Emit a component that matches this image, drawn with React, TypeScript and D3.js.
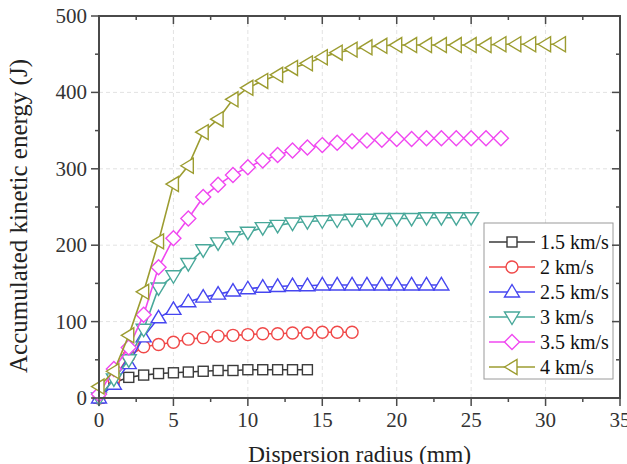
import React from "react";
import * as d3 from "d3";

const seriesNames = ["1.5 km/s", "2 km/s", "2.5 km/s", "3 km/s", "3.5 km/s", "4 km/s"];
const seriesColors = ["#3a3a3a", "#f04848", "#4646f0", "#48a89a", "#f048f0", "#9c9c30"];
const seriesSymbols = ["square", "circle", "triangleUp", "triangleDown", "diamond", "triangleLeft"];

const e15 = [0, 20, 27, 30, 32, 33, 34, 35, 36, 36, 37, 37, 37, 37, 37];
const e20 = [0, 25, 55, 67, 70, 73, 77, 79, 81, 82, 83, 84, 84, 85, 85, 86, 86, 86];
const e25 = [0, 18, 45, 80, 105, 116, 126, 132, 136, 140, 143, 145, 146, 147, 147, 148, 148, 148, 148, 148, 148, 148, 148, 148];
const e30 = [0, 25, 50, 90, 144, 160, 176, 194, 203, 211, 217, 223, 226, 229, 231, 232, 233, 234, 234, 235, 235, 235, 236, 236, 236, 236];
const e35 = [5, 38, 66, 109, 171, 209, 235, 263, 279, 292, 302, 311, 318, 324, 328, 331, 334, 336, 337, 338, 339, 339, 340, 340, 340, 340, 340, 340];
const e40 = [15, 35, 82, 139, 205, 280, 304, 348, 365, 391, 406, 415, 423, 432, 438, 446, 452, 456, 459, 461, 462, 462, 462, 462, 462, 462, 462, 463, 463, 463, 463, 463];
const seriesValues = [e15, e20, e25, e30, e35, e40];

const xTicks = [0, 5, 10, 15, 20, 25, 30, 35];
const yTicks = [0, 100, 200, 300, 400, 500];
const xTitle = "Dispersion radius (mm)";
const yTitle = "Accumulated kinetic energy (J)";

const W = 627;
const H = 464;
const x = d3.scaleLinear().domain([0, 35]).range([99, 620]);
const y = d3.scaleLinear().domain([0, 500]).range([398, 16]);

function Marker({ type, cx, cy, color }: { type: string; cx: number; cy: number; color: string }) {
  const common = { fill: "white", stroke: color, strokeWidth: 1.4 };
  if (type === "square") return <rect x={cx - 5} y={cy - 5} width={10} height={10} {...common} />;
  if (type === "circle") return <circle cx={cx} cy={cy} r={6} {...common} />;
  if (type === "triangleUp")
    return <path d={`M${cx},${cy - 7.5}L${cx + 7.5},${cy + 5}L${cx - 7.5},${cy + 5}Z`} {...common} />;
  if (type === "triangleDown")
    return <path d={`M${cx},${cy + 7.5}L${cx + 7.5},${cy - 5}L${cx - 7.5},${cy - 5}Z`} {...common} />;
  if (type === "diamond")
    return <path d={`M${cx},${cy - 7.5}L${cx + 7.5},${cy}L${cx},${cy + 7.5}L${cx - 7.5},${cy}Z`} {...common} />;
  return <path d={`M${cx - 7.5},${cy}L${cx + 5},${cy - 7.5}L${cx + 5},${cy + 7.5}Z`} {...common} />;
}

export default function App() {
  const line = d3
    .line<number>()
    .x((_, i) => x(i))
    .y((d) => y(d));
  const xMinor = d3.range(0, 35.01, 2.5);
  const yMinor = d3.range(0, 500.01, 50);
  const font = "'Liberation Serif', 'Times New Roman', serif";
  const axisColor = "#4a4a4a";
  const legendX = 484;
  const legendY = 223;
  return (
    <svg width={W} height={H} style={{ position: "absolute", left: 0, top: 0 }} fontFamily={font}>
      <rect x={0} y={0} width={W} height={H} fill="white" />
      {/* grid */}
      {xTicks.slice(1, -1).map((t) => (
        <line key={"gx" + t} x1={x(t)} x2={x(t)} y1={y(0)} y2={y(500)} stroke="#e2e2e2" strokeDasharray="4,3" strokeWidth={1} />
      ))}
      {yTicks.slice(1, -1).map((t) => (
        <line key={"gy" + t} x1={x(0)} x2={x(35)} y1={y(t)} y2={y(t)} stroke="#e2e2e2" strokeDasharray="4,3" strokeWidth={1} />
      ))}
      {/* series */}
      {seriesValues.map((vals, si) => (
        <g key={"s" + si}>
          <path d={line(vals) || ""} fill="none" stroke={seriesColors[si]} strokeWidth={1.6} />
          {vals.map((v, i) => (
            <Marker key={i} type={seriesSymbols[si]} cx={x(i)} cy={y(v)} color={seriesColors[si]} />
          ))}
        </g>
      ))}
      {/* legend */}
      <rect x={legendX} y={legendY} width={129} height={156} fill="white" stroke="#9a9a9a" strokeWidth={1} />
      {seriesNames.map((n, i) => {
        const cy = 242 + i * 25;
        return (
          <g key={"l" + i}>
            <line x1={489} x2={535} y1={cy} y2={cy} stroke={seriesColors[i]} strokeWidth={1.6} />
            <Marker type={seriesSymbols[i]} cx={512} cy={cy} color={seriesColors[i]} />
            <text x={540} y={cy + 7} fontSize={20} fill="#111">
              {n}
            </text>
          </g>
        );
      })}
      {/* frame */}
      <rect x={x(0)} y={y(500)} width={x(35) - x(0)} height={y(0) - y(500)} fill="none" stroke={axisColor} strokeWidth={2} />
      {/* ticks bottom (out) and top (in) */}
      {xMinor.map((t) => {
        const major = t % 5 === 0;
        const len = major ? 8 : 4;
        return (
          <g key={"xt" + t}>
            <line x1={x(t)} x2={x(t)} y1={y(0)} y2={y(0) + len} stroke={axisColor} strokeWidth={1.5} />
            <line x1={x(t)} x2={x(t)} y1={y(500)} y2={y(500) + len} stroke={axisColor} strokeWidth={1.5} />
          </g>
        );
      })}
      {yMinor.map((t) => {
        const major = t % 100 === 0;
        const len = major ? 8 : 4;
        return (
          <g key={"yt" + t}>
            <line x1={x(0) - len} x2={x(0)} y1={y(t)} y2={y(t)} stroke={axisColor} strokeWidth={1.5} />
            <line x1={x(35) - len} x2={x(35)} y1={y(t)} y2={y(t)} stroke={axisColor} strokeWidth={1.5} />
          </g>
        );
      })}
      {xTicks.map((t) => (
        <text key={"xl" + t} x={x(t)} y={427} textAnchor="middle" fontSize={21} fill="#333">
          {t}
        </text>
      ))}
      {yTicks.map((t) => (
        <text key={"yl" + t} x={87} y={y(t) + 7} textAnchor="end" fontSize={21} fill="#333">
          {t}
        </text>
      ))}
      <text x={(x(0) + x(35)) / 2} y={462} textAnchor="middle" fontSize={23.5} fill="#222">
        {xTitle}
      </text>
      <text transform={`translate(27,216) rotate(-90)`} textAnchor="middle" fontSize={25} fill="#222">
        {yTitle}
      </text>
    </svg>
  );
}
